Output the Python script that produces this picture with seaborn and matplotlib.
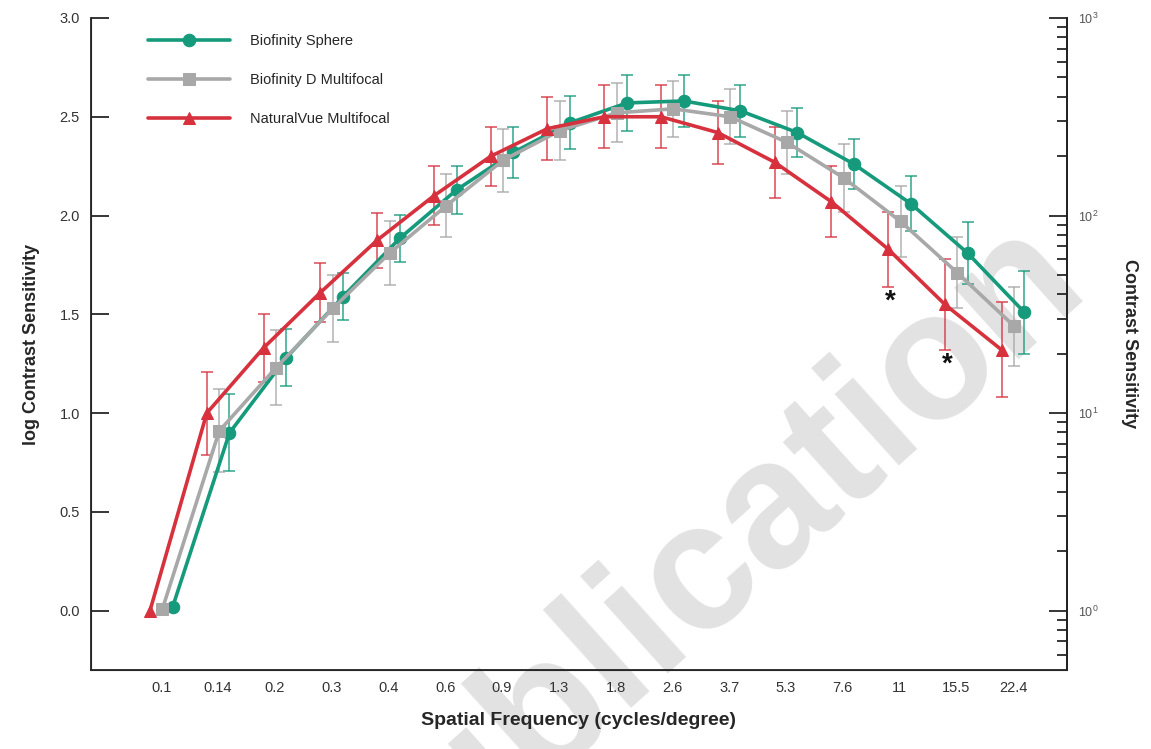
import numpy as np
import pandas as pd
import matplotlib
matplotlib.use("Agg")
import matplotlib.pyplot as plt
import matplotlib.transforms as mtransforms
from matplotlib.ticker import LogLocator, LogFormatterMathtext, NullFormatter
import seaborn as sns

sns.set_style("white")
plt.rcParams['font.family'] = ['Liberation Sans', 'DejaVu Sans']

# spatial frequencies (cycles/degree), one tick per frequency
freqs = ['0.1', '0.14', '0.2', '0.3', '0.4', '0.6', '0.9', '1.3', '1.8', '2.6',
         '3.7', '5.3', '7.6', '11', '15.5', '22.4']

# log contrast sensitivity, mean and error bar half-width
sphere = [0.02, 0.90, 1.28, 1.59, 1.885, 2.13, 2.32, 2.47, 2.57, 2.58, 2.53, 2.42, 2.26, 2.06, 1.81, 1.51]
sphere_err = [0, 0.195, 0.145, 0.12, 0.12, 0.12, 0.13, 0.135, 0.14, 0.13, 0.13, 0.125, 0.125, 0.14, 0.155, 0.21]
dmulti = [0.01, 0.91, 1.23, 1.53, 1.81, 2.05, 2.28, 2.43, 2.52, 2.54, 2.50, 2.37, 2.19, 1.97, 1.71, 1.44]
dmulti_err = [0, 0.21, 0.19, 0.17, 0.16, 0.16, 0.16, 0.15, 0.15, 0.14, 0.14, 0.16, 0.17, 0.18, 0.18, 0.20]
natural = [0.00, 1.00, 1.33, 1.61, 1.875, 2.10, 2.30, 2.44, 2.50, 2.50, 2.42, 2.27, 2.07, 1.83, 1.55, 1.32]
natural_err = [0, 0.21, 0.17, 0.15, 0.14, 0.15, 0.15, 0.16, 0.16, 0.16, 0.16, 0.18, 0.18, 0.19, 0.23, 0.24]

# frequencies where NaturalVue differs significantly (marked with *)
signif = ['11', '15.5']

series = [
    ('Biofinity Sphere', sphere, sphere_err, '#159a7c', 'o', 9, 0.2),
    ('Biofinity D Multifocal', dmulti, dmulti_err, '#a8a8a8', 's', 8, 0.02),
    ('NaturalVue Multifocal', natural, natural_err, '#d7313e', '^', 8.5, -0.2),
]

fig = plt.figure(figsize=(11.51, 7.49), dpi=100)
ax = fig.add_axes([0.079, 0.1055, 0.848, 0.8705])
pos = np.arange(len(freqs))

# faint diagonal watermark behind everything
ax.text(0.605, 0.232, 'Publication', transform=fig.transFigure, rotation=42,
        fontsize=130, fontweight='bold', color='#e2e2e2', ha='center', va='center',
        rotation_mode='anchor', zorder=0, clip_on=False)

handles = []
for name, vals, err, col, mk, ms, off in series:
    df = pd.DataFrame({'x': pos + off, 'y': vals, 'err': err})
    eb = df[df['err'] > 0]
    ax.errorbar(eb['x'], eb['y'], yerr=eb['err'], fmt='none', ecolor=col, alpha=0.75,
                elinewidth=1.3, capsize=4.5, capthick=1.3, zorder=2)
    sns.lineplot(data=df, x='x', y='y', ax=ax, color=col, marker=mk, markersize=ms,
                 markeredgecolor=col, linewidth=2.6, label=name, zorder=3, legend=False)
    handles.append(ax.lines[-1])

# significance asterisks under the NaturalVue error bars
for f in signif:
    i = freqs.index(f)
    ax.text(i - 0.16, natural[i] - natural_err[i] - 0.075, '*', fontsize=20,
            fontweight='bold', ha='center', va='center', color='#111111', zorder=4)

ax.set_xlim(-1.24, 15.95)
ax.set_ylim(-0.3, 3.0)
ax.set_xticks(pos)
ax.set_xticklabels(freqs, fontsize=10.5, color='#333333')
shift = mtransforms.ScaledTranslation(9 / 100, 0, fig.dpi_scale_trans)
for lab in ax.get_xticklabels():
    lab.set_transform(lab.get_transform() + shift)
ax.set_yticks(np.arange(0, 3.01, 0.5))
ax.set_yticklabels([f'{v:.1f}' for v in np.arange(0, 3.01, 0.5)], fontsize=10.5, color='#333333')
ax.tick_params(axis='y', direction='in', length=13, width=1.3, pad=8)
ax.tick_params(axis='x', direction='in', length=11.5, width=1.3, pad=8)
ax.set_xlabel('Spatial Frequency (cycles/degree)', fontsize=14, fontweight='bold', labelpad=12)
ax.set_ylabel('log Contrast Sensitivity', fontsize=13, fontweight='bold', labelpad=14)
ax.spines['top'].set_visible(False)
for s in ['left', 'bottom', 'right']:
    ax.spines[s].set_linewidth(1.3)
    ax.spines[s].set_color('#222222')

ax2 = ax.twinx()
ax2.set_yscale('log')
ax2.set_ylim(10 ** -0.3, 10 ** 3)
ax2.yaxis.set_major_locator(LogLocator(base=10, numticks=10))
ax2.yaxis.set_major_formatter(LogFormatterMathtext())
ax2.yaxis.set_minor_locator(LogLocator(base=10, subs=np.arange(2, 10), numticks=20))
ax2.yaxis.set_minor_formatter(NullFormatter())
ax2.tick_params(axis='y', which='major', direction='in', length=13, width=1.3,
                labelsize=9, labelcolor='#555555', pad=8)
ax2.tick_params(axis='y', which='minor', direction='in', length=7, width=1.3)
ax2.set_ylabel('Contrast Sensitivity', fontsize=13, fontweight='bold', rotation=270, labelpad=28)
ax2.spines['top'].set_visible(False)
ax2.spines['right'].set_linewidth(1.3)
ax2.spines['right'].set_color('#222222')

ax.legend(handles=handles, labels=[s[0] for s in series], loc='upper left',
          bbox_to_anchor=(0.045, 0.995), frameon=False, fontsize=10.5,
          handlelength=5.6, labelspacing=1.7, handletextpad=1.4)

fig.savefig('out.png', dpi=100)
